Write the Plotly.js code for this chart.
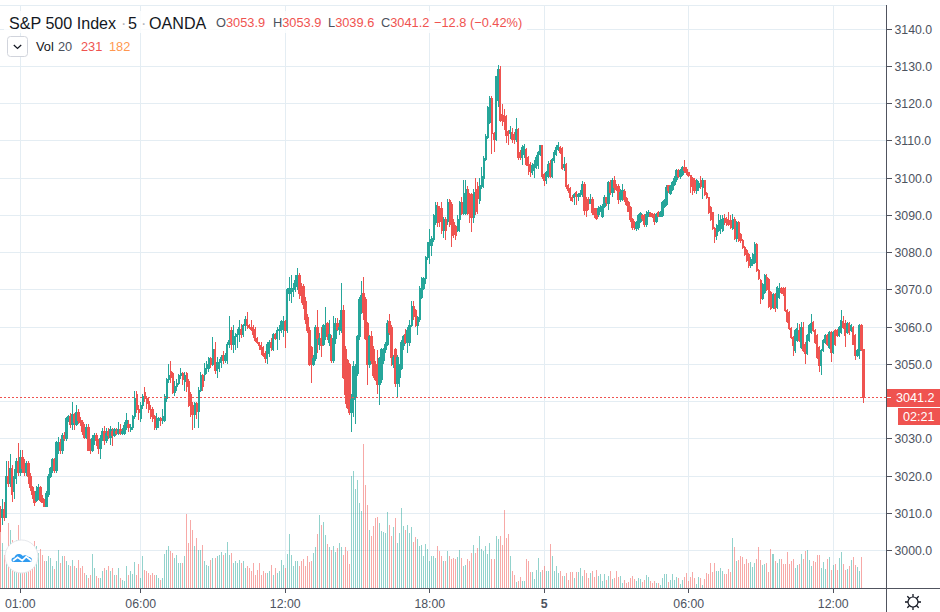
<!DOCTYPE html>
<html><head><meta charset="utf-8">
<script src="https://cdn.plot.ly/plotly-3.0.1.min.js"></script>
<style>html,body{margin:0;padding:0;background:#fff}#c{width:940px;height:612px}
.bars path,.boxes path,.shapelayer path{shape-rendering:crispEdges}</style>
</head><body><div id="c"></div>
<script>
const opens=[
3011,3009,3011,3009,3020,3018,3022,3016,3019.5,3024,
3021,3025,3023,3021,3023.5,3020,3017,3016,3013.5,3014.5,
3017,3014,3013.5,3012,3015,3020,3021.5,3024.5,3021.5,3027,
3029,3027,3031,3030,3035,3036,3034,3036.5,3034,3037,
3035,3034.5,3032.5,3030.5,3033,3029.5,3027,3030,3031,3029.5,
3027.5,3030,3032,3029.5,3032,3030.5,3032,3031,3032,3031.5,
3032.5,3031.5,3031.5,3033,3034,3032.5,3033,3036,3042,3038,
3035.5,3039,3042.5,3041,3040,3038,3038,3036,3033,3035,
3035.5,3035,3035,3041,3046,3048,3047.5,3042.5,3044,3045,
3047,3047.5,3045.5,3047.5,3045.5,3042,3039,3036.5,3039.5,3037.5,
3043,3047,3047.4,3049,3049,3051.5,3050,3054,3048.5,3049,
3050.5,3052.5,3051,3051,3055.5,3059,3055.5,3055.5,3057.5,3058,
3059.5,3058,3060.5,3062,3060.5,3060,3060,3059.5,3057,3056,
3055,3054.5,3053,3051.5,3053,3056,3054,3058,3057,3059,
3059,3059.5,3061.5,3059,3069,3069,3069.5,3070,3071,3074,
3071,3071,3067,3062.5,3059,3054.5,3050,3051.5,3060,3055.5,
3057,3055.5,3058,3061,3056,3057,3051,3057,3061,3059.5,
3059,3064.5,3054,3051,3050,3037,3040.5,3041.5,3047.5,3057.5,
3064.5,3069,3067.5,3061,3050,3057.5,3054,3050,3046.5,3044.5,
3046,3051,3054,3055.5,3061.5,3060,3050,3054,3045,3046.5,
3049,3055,3058,3056,3056,3060.5,3065.5,3064.5,3060.5,3062,
3068,3070.5,3073,3078.7,3082,3082,3083.5,3088.2,3092.5,3092,
3092,3086,3089,3088.5,3094,3093,3088,3087,3086,3089,
3093.5,3090.5,3090.5,3097,3095.5,3095.5,3089.5,3097,3097.7,3094,
3097.7,3100,3105,3111,3115,3121.5,3112,3110.5,3120.9,3129.3,
3117,3116.8,3116.7,3112.5,3111.9,3112.3,3111.8,3110.3,3113.1,3107,
3105.6,3106.5,3107.8,3105.6,3103.8,3101.5,3102,3103,3103.4,3106.5,
3108.7,3101.1,3099.4,3100.5,3104,3100.4,3104.7,3106.5,3107.8,3108.3,
3108,3103,3103.8,3098,3097.2,3094.8,3094.8,3096.1,3095.2,3095.7,
3095.5,3098.4,3094.3,3093.8,3093.2,3094.3,3091.8,3091.5,3090.3,3092,
3089.8,3092.3,3094.8,3093.2,3098.8,3096.1,3099.5,3097.5,3097.9,3094.3,
3095.5,3096.4,3094.5,3093.4,3092.1,3088.9,3088,3086.4,3086.7,3088.5,
3090,3090,3087.6,3090,3090.5,3090.2,3090.3,3088.5,3090.7,3089.8,
3090,3092.5,3093,3098,3096,3097,3098.4,3099.7,3102,3100.4,
3101,3102.9,3102.4,3101.5,3100.7,3100,3099.3,3096.6,3097.5,3099.5,
3097.5,3099.3,3096,3094.8,3092.1,3090.8,3086.6,3084.5,3085.9,3086.5,
3085.9,3089.1,3089,3088.6,3088.6,3086.6,3089,3083.7,3088.1,3085,
3083.2,3081.4,3080.5,3079.6,3076.5,3077,3077.4,3082.3,3075.2,3072.5,
3067.6,3069.4,3073.4,3072.9,3069.4,3065.3,3068.9,3065.4,3068,3070.5,
3070.3,3070.5,3064.5,3064,3059.6,3057.3,3053.8,3056.4,3059.1,3054.6,
3060,3055.5,3052.9,3056.4,3058.7,3061.3,3059.1,3057.8,3054.6,3049.7,
3053.8,3056,3057.8,3054.6,3058.7,3053.3,3059.1,3059.1,3057.8,3058.7,
3061.6,3060.9,3058.7,3061,3059.1,3060,3057.8,3052.4,3053.8,3060.4,
3053.9];
const highs=[
3012,3014,3013,3024,3024,3026,3023,3022,3025,3029,
3027,3027,3024.5,3024,3024,3021,3017.5,3016,3017.5,3018,
3017.5,3015,3014,3016,3020.5,3022.5,3025,3025,3029.5,3030.5,
3030,3031.5,3032,3036,3036.5,3037,3040,3037,3039,3038,
3036,3035,3034,3034,3034,3030,3031,3031.5,3031.5,3030,
3031,3033,3033.5,3033,3033,3033.5,3033,3033,3033,3034.5,
3034,3033,3034.5,3037,3035,3034,3036.5,3043,3043,3039,
3040,3042,3044,3041.5,3041,3039,3038.5,3036.5,3037,3036,
3036,3038,3042,3046.5,3050,3051,3048,3045.5,3046,3047.5,
3049,3048,3048,3048,3046,3042.5,3040,3040,3040,3044,
3048,3047.5,3050.5,3051,3052,3052,3057.5,3056,3052,3051.5,
3052.5,3053.5,3053,3056,3063,3060,3060.5,3058.5,3059.5,3062,
3061,3061,3063,3064,3061,3062,3060.5,3060,3057.5,3056,
3056,3055,3053.5,3056,3056.5,3057,3058.5,3058.5,3060,3060.5,
3062,3063,3062,3070.5,3073.5,3074,3072,3074,3076,3074.5,
3072,3071.5,3068,3063.5,3060,3055,3052.5,3060.5,3064.5,3058.5,
3060,3061,3065.5,3061.5,3062,3058,3063,3062.5,3062.5,3062,
3072,3066,3055,3051.5,3050.5,3042,3051,3050,3058,3068,
3072.5,3073.5,3068,3061.5,3058,3059,3055,3051,3054,3052,
3054.5,3054.5,3056,3062,3063.5,3060.5,3052.5,3054.5,3052.5,3050,
3056.5,3058,3059.5,3060,3062,3067,3067,3065,3063,3071,
3073.5,3073.5,3079,3083,3086.5,3084.5,3090.5,3093.5,3093.5,3092.5,
3093.5,3089.5,3089.5,3094.5,3094.5,3093.5,3089,3087.5,3090,3094,
3095,3099.5,3099.5,3098,3096,3096,3097,3100,3099,3100,
3103,3106,3112,3119.5,3122,3122,3112.5,3127.5,3130.5,3130,
3120,3118.5,3117,3113,3114,3113.5,3112.5,3116.3,3113.5,3107.5,
3108.8,3109.3,3108,3106,3104.3,3104,3105,3106.2,3107.4,3109,
3109,3101.5,3102,3104.5,3105,3105.5,3107.5,3108.8,3109.7,3108.7,
3108.5,3105.8,3104,3098.5,3097.6,3095.5,3096,3096.5,3096,3096.8,
3099.2,3099,3095,3095,3095.8,3095,3092,3092,3092.5,3092.8,
3093,3095.5,3095,3099.3,3099.5,3100,3100.5,3098.5,3098.5,3097,
3098.5,3097,3095,3094,3092.5,3089.3,3088.5,3088.5,3090.5,3091,
3090.5,3090.5,3091.2,3091.5,3091,3090.8,3090.7,3090.8,3091.2,3091.3,
3093.9,3094.5,3098.3,3098.3,3098.3,3099.3,3100.5,3102.4,3102.5,3102.5,
3103.3,3104.8,3103,3101.8,3101,3100.4,3100,3099.8,3099.3,3100.5,
3100,3099.6,3096.3,3095,3092.5,3091,3087,3087.6,3090.3,3090,
3090,3090.5,3089.5,3091,3090,3090.5,3089.5,3088.6,3088.5,3085.3,
3083.6,3081.8,3080.9,3080,3078.8,3080,3082.8,3082.7,3075.6,3073,
3072,3074.3,3074.2,3073.2,3069.7,3069.3,3069.3,3071.2,3072,3070.9,
3070.8,3070.9,3064.9,3064.3,3060,3057.7,3059.5,3061.2,3061,3061.5,
3061.5,3056,3058.2,3060.8,3063.5,3061.7,3059.5,3058.2,3055,3054.2,
3056.8,3058.2,3058.2,3059.1,3059.1,3059,3059.5,3059.5,3060.4,3064.7,
3063,3062,3061.5,3061.5,3060.8,3060.4,3058.2,3054.2,3060.8,3060.8,
3053.9];
const lows=[
3005,3007,3008,3009,3017,3017,3013,3014,3018,3020,
3020,3021,3020,3020,3018,3016,3014,3012,3013,3013.5,
3013,3013,3012,3012,3014.5,3019.5,3021,3021,3021,3026,
3026,3026,3029.5,3029.5,3034.5,3033,3032.5,3032.5,3033.5,3034,
3033.5,3031,3030,3030,3027,3026,3026.5,3028.5,3028,3026,
3024.5,3029.5,3028.5,3029,3030,3028.5,3028,3030.5,3031,3031,
3031,3031,3031,3032.5,3032,3032,3032.5,3035.5,3037,3035,
3034.5,3038,3040,3038,3037,3035.5,3034.5,3032.5,3032.5,3033,
3033.5,3034,3034.5,3040,3045,3045,3042,3041.5,3043,3044.5,
3046,3044.5,3043,3042.5,3038.5,3036,3032.5,3033,3035.5,3033,
3042.5,3043,3045.5,3047.5,3048,3049,3049.5,3047.5,3046.5,3048,
3049,3050,3050.5,3050,3054.5,3054,3053,3054,3054.5,3056,
3057,3057.5,3059,3059.5,3059.5,3059,3057,3056,3055.5,3054,
3052.5,3052,3050.5,3050,3052,3053.5,3053.5,3056.5,3054,3056.5,
3058.5,3057.5,3054.5,3058.5,3067,3066.5,3068,3069.5,3070,3067.5,
3066.5,3065,3061,3058.5,3049.5,3045,3049.5,3051,3053,3054,
3052,3055,3056.5,3056.5,3055,3050.5,3050.5,3055.5,3059,3058,
3058.5,3046,3039.5,3038,3036.5,3032,3036,3034,3047,3056.5,
3063.5,3062,3056.5,3044.5,3049,3050,3046.5,3045.5,3042,3039,
3045,3050,3053,3055,3058,3049.5,3049,3044,3041,3044,
3048.5,3054,3055.5,3053,3055,3060,3062,3060,3058,3061.5,
3067.5,3070,3071.5,3078,3077,3079,3083,3087.5,3087,3087,
3085,3084,3083.5,3087.5,3087,3081.5,3084,3083.5,3085.5,3085.5,
3090,3090,3090,3090,3088,3085.5,3088,3090,3090.5,3093,
3097,3097.5,3104.5,3110.5,3114.5,3106.5,3107,3110,3119,3115,
3114,3113,3109.5,3109,3110.5,3109.5,3109.3,3109.8,3105,3104.8,
3103.5,3105.5,3103.3,3100.8,3100.3,3100.8,3100,3102.4,3102.5,3106,
3099.8,3098,3098.5,3100,3100,3100,3104,3106,3107.3,3106.5,
3102.3,3102,3097,3096,3094,3093.5,3092.8,3092.8,3094,3095,
3095,3090,3089.7,3091.5,3093,3090.2,3089.4,3088.8,3089.5,3091,
3089.3,3092,3092.5,3091.5,3095.5,3095,3096,3096.5,3093,3093.5,
3094,3093.5,3092.5,3091,3088.3,3086.2,3086,3085.8,3086.2,3088,
3088.5,3087,3087,3089.5,3089.5,3089.3,3087.5,3088,3089.5,3089.5,
3089.5,3092,3092.5,3096,3095.5,3096.5,3098,3099,3100,3099.8,
3100.5,3101.5,3101,3100.2,3096,3095.5,3096,3095.8,3096.5,3097,
3094.5,3095.2,3094.3,3090.3,3088.5,3086,3082.5,3083.3,3085.5,3085,
3085.5,3087.5,3087.2,3087.2,3086.5,3086.2,3083.3,3082.8,3082.8,3082.5,
3081,3079.2,3077.4,3076,3076,3076.5,3077,3074.8,3072.6,3066.2,
3067.2,3069,3069.8,3065.2,3064.5,3064.8,3064,3065,3067.5,3069,
3068.5,3064,3061.2,3059.2,3056.9,3052.4,3053.2,3056,3056,3054.2,
3053.4,3050,3052.5,3056,3058.3,3058.7,3055.6,3051.6,3048.1,3047.3,
3053.4,3055.6,3055,3054.2,3050.7,3052.9,3055,3057.4,3057.4,3058.3,
3059.6,3054.6,3058.3,3058,3058.7,3055.1,3051.1,3052,3051.5,3053.5,
3039.6];
const closes=[
3009,3011,3009,3020,3018,3022,3015,3020,3024,3021,
3025,3022,3021,3023.5,3020,3017,3015,3013,3016,3017,
3013.5,3013,3012,3015.5,3020,3022,3024.5,3021.5,3029,3029,
3027,3031,3030,3035.5,3036,3034,3036.5,3034.5,3037,3035,
3034.5,3032,3030.5,3033,3027,3027,3030,3031,3029.5,3027.5,
3030,3032,3029.5,3031.5,3031,3032.5,3031,3032.5,3031.5,3032.5,
3031.5,3032,3033.5,3035,3033,3033,3036,3041,3038,3037,
3039,3041.5,3041,3039.5,3038,3036,3035.5,3033,3035.5,3035.5,
3035,3036,3041.5,3046,3047,3046.5,3042.5,3044,3045,3047,
3047.5,3046,3047,3044,3039,3036.5,3036.5,3039.5,3037.5,3043,
3047,3044,3049,3050,3051.5,3050,3054,3048.5,3050.5,3050.5,
3052,3051,3052.5,3055.5,3056.5,3055.5,3059,3057.5,3058,3060,
3058,3060.5,3062,3060.5,3060,3059.5,3058,3056.5,3056,3055,
3054,3052.5,3051.5,3055.5,3056,3054.5,3058,3057,3059,3059.5,
3061.5,3061.5,3059,3070,3070.5,3070.5,3070.5,3072.5,3074,3069,
3068.5,3066,3062,3059,3050,3050,3051.5,3060,3057,3057,
3055,3060.5,3060.5,3057.5,3058,3051,3057,3061,3059.5,3060,
3064.5,3046.5,3042,3038.5,3037,3040.5,3049.5,3047.5,3057.5,3067.5,
3068.5,3064,3057,3050,3057.5,3051,3047,3046,3044.5,3051.5,
3054,3054,3055.5,3061,3058.5,3052,3052,3045,3052,3049,
3056,3057.5,3056,3059,3060.5,3065.5,3063,3060.5,3062.5,3070.5,
3073,3073,3078.7,3082.8,3083.5,3083.7,3090,3092.7,3088.2,3088.5,
3086,3089,3086,3093.5,3087.5,3084.5,3085,3084.5,3089,3093.5,
3090.5,3095.9,3097,3090.5,3089.5,3089.5,3096.3,3091,3094.5,3098,
3100.5,3105.4,3111.3,3118.9,3121.4,3112,3110.3,3127.2,3129.3,3115.5,
3115.5,3115.3,3111.4,3111.5,3112.8,3110.5,3110.5,3113.1,3105.6,3105.6,
3108.3,3108.5,3103.8,3103.3,3101.8,3103.3,3103.6,3105.6,3106.9,3108.7,
3100.4,3099.4,3101.5,3103.8,3100.4,3105.1,3106.9,3108.3,3108.7,3107,
3102.7,3103.8,3097.9,3096.6,3094.8,3094,3095.7,3095,3095.7,3096,
3098.4,3091.4,3091.4,3093.2,3094.3,3090.7,3090.3,3089.3,3092,3092.2,
3092.5,3094.8,3093.4,3098.8,3096.1,3099.3,3097.5,3097,3094.3,3096.1,
3096.6,3094.3,3093,3091.2,3088.9,3086.7,3086.7,3088,3090.1,3090.4,
3089.1,3087.6,3090.3,3090.8,3089.8,3089.8,3088.5,3090.3,3089.8,3090.9,
3093.4,3094,3097.5,3096.6,3097.9,3098.8,3100,3102,3100.4,3102,
3102.9,3102,3101.5,3100.6,3097.9,3096.8,3096.6,3099.5,3098.5,3097.8,
3099.5,3095.7,3094.8,3090.8,3089,3086.6,3084.3,3087.2,3088.6,3089,
3089.1,3088.1,3087.7,3087.7,3086.9,3089,3083.7,3088.1,3083.2,3083.2,
3081.4,3079.6,3077.8,3076.5,3078.2,3079.6,3082.3,3075.2,3073,3067.6,
3071.6,3073.8,3070.2,3065.5,3064.9,3068.9,3064.9,3070.7,3070.3,3069.4,
3069,3064.5,3061.6,3059.6,3057.3,3055.1,3059.1,3059.6,3056.4,3060,
3053.8,3052.9,3057.8,3060.4,3060.9,3059.1,3056,3052,3049.7,3053.8,
3056.4,3057.8,3055.5,3058.7,3053.3,3058.7,3055.5,3057.8,3060,3061.8,
3060,3057.8,3060.9,3058.5,3060.4,3055.5,3052.4,3053.8,3060.4,3053.9,
3041.2];
const volumes=[
435,338,248,248,488,435,360,285,360,473,
300,263,225,263,225,263,285,353,315,263,
293,248,203,203,240,225,165,143,203,285,
188,240,240,203,173,165,210,165,150,210,
150,165,113,98,75,98,255,150,90,75,
75,128,150,135,165,128,150,98,98,150,
75,60,53,165,98,128,105,195,98,180,
75,240,135,128,113,98,113,98,98,75,
60,75,255,285,315,278,263,225,248,188,
188,188,240,555,338,510,435,315,375,285,
285,323,203,173,165,210,225,225,240,248,
270,248,263,345,248,263,188,203,188,210,
188,203,150,165,150,128,188,98,135,188,
98,128,113,113,128,173,98,150,113,128,
210,173,150,255,405,248,165,203,203,165,
203,218,165,240,195,203,263,308,405,548,
473,495,398,330,308,285,315,270,300,338,
308,248,308,278,180,840,878,743,810,638,
578,1080,773,623,435,390,465,525,533,488,
428,420,413,570,473,390,458,525,338,413,
600,465,435,473,413,458,345,383,368,315,
323,240,330,293,203,240,240,225,315,278,
240,203,203,278,240,218,225,218,233,285,
225,165,173,218,203,263,323,263,300,390,
293,278,315,255,338,218,218,390,368,390,
323,585,375,405,240,128,98,45,53,83,
53,53,218,203,120,120,68,135,225,120,
135,165,128,128,330,240,128,165,113,128,
90,90,113,60,120,120,75,120,120,150,
90,135,113,75,113,128,83,135,90,105,
53,105,60,90,128,68,75,128,83,90,
38,60,38,45,75,90,68,53,75,68,
45,60,98,83,53,38,53,38,38,23,
75,105,105,45,60,105,60,83,75,30,
60,83,113,53,83,120,75,30,83,75,
23,68,113,105,188,120,188,128,128,150,
128,105,105,143,120,375,308,203,210,240,
233,180,218,188,195,158,188,218,308,210,
173,180,188,120,293,255,203,188,218,218,
180,180,270,180,203,218,150,173,180,255,
218,278,285,210,165,203,195,248,248,150,
195,143,218,233,135,173,180,135,225,270,
180,135,143,165,210,233,173,158,128,231];
const tickIndex=[10,70,142,214,271,343,415];
const tickLabels=["01:00","06:00","12:00","18:00","<b>5</b>","06:00","12:00"];
const priceTicks=[3000,3010,3020,3030,3040,3050,3060,3070,3080,3090,3100,3110,3120,3130,3140];
const priceLabels=["3000.0","3010.0","3020.0","3030.0","","3050.0","3060.0","3070.0","3080.0","3090.0","3100.0","3110.0","3120.0","3130.0","3140.0"];
const lastPrice=3041.2;

const UP='#26a69a',DOWN='#ef5350',GRID='#e4edf3',AX='#50535e',TXT='#4c525e',INK='#131722',ORANGE='#ff9850';
const FONT='"Liberation Sans",Arial,sans-serif';
const PW=886,PT=5,PB=588,PH=PB-PT;
const X=p=>p/PW, Y=p=>(PB-p)/PH;
const idx=closes.map((_,i)=>i);
const volColors=closes.map((c,i)=>c>=opens[i]?'rgba(38,166,154,0.5)':'rgba(239,83,80,0.5)');
const volW=closes.map((_,i)=>i===closes.length-1?1.5:0.5);

const svg=s=>'data:image/svg+xml;utf8,'+encodeURIComponent(s);
const logo=svg('<svg xmlns="http://www.w3.org/2000/svg" width="40" height="40" viewBox="0 0 40 40"><circle cx="19.5" cy="19.5" r="16.5" fill="#fff" stroke="#e6e8ec" stroke-width="1"/><g transform="translate(6.4,7.2) scale(0.66)"><path d="M8 27c-3 0-4-3-3-5 1-2 3-2 4-2 1-3 4-6 8-5 2 0 4 2 5 3 2-2 6-1 8 1 3 0 6 2 6 5 0 2-2 3-4 3z" fill="#2f9bf0"/><path d="M7 25l7-5 7 5 6-6 8 6" fill="none" stroke="#fff" stroke-width="2.6"/></g></svg>');
const gear=svg('<svg xmlns="http://www.w3.org/2000/svg" width="20" height="20" viewBox="0 0 20 20"><circle cx="10" cy="10" r="5" fill="none" stroke="#131722" stroke-width="1.2"/><g stroke="#131722" stroke-width="1.3"><path d="M10 2v3M10 15v3M2 10h3M15 10h3M4.3 4.3l2 2M13.7 13.7l2 2M4.3 15.7l2-2M13.7 6.3l2-2"/></g></svg>');
const chev=svg('<svg xmlns="http://www.w3.org/2000/svg" width="21" height="21" viewBox="0 0 21 21"><rect x="0.5" y="0.5" width="20" height="20" rx="3" fill="#fff" stroke="#d1d4dc"/><path d="M6.8 9l3.7 3.4L14.2 9" fill="none" stroke="#131722" stroke-width="1.3"/></svg>');
const img=(source,px,py,w,h)=>({source,xref:'paper',yref:'paper',x:X(px),y:Y(py),sizex:w/PW,sizey:h/PH,xanchor:'left',yanchor:'top',layer:'above',sizing:'stretch'});
const note=(text,px,py,size,color)=>({text,xref:'paper',yref:'paper',x:X(px),y:Y(py),xanchor:'left',yanchor:'middle',showarrow:false,font:{family:FONT,size,color:color||INK},borderpad:0});
const red=t=>'<span style="color:'+DOWN+'">'+t+'</span>';

const traces=[
 {type:'bar',x:idx,y:volumes,width:volW,yaxis:'y',xaxis:'x',marker:{color:volColors,line:{width:0}},hoverinfo:'skip',showlegend:false},
 {type:'candlestick',x:idx,open:opens,high:highs,low:lows,close:closes,xaxis:'x',yaxis:'y2',whiskerwidth:0,hoverinfo:'skip',showlegend:false,
  increasing:{line:{color:UP,width:1},fillcolor:UP},decreasing:{line:{color:DOWN,width:1},fillcolor:DOWN}}
];
const rect=(x0,y0,x1,y1,c)=>({type:'rect',xref:'paper',yref:'paper',x0:X(x0),x1:X(x1),y0:Y(y0),y1:Y(y1),fillcolor:c,line:{width:0},layer:'above'});
const seg=(x0,y0,x1,y1,c)=>({type:'line',xref:'paper',yref:'paper',x0:X(x0),x1:X(x1),y0:Y(y0),y1:Y(y1),line:{color:c,width:1},layer:'above'});
const layout={
 width:940,height:612,margin:{l:0,r:54,t:PT,b:612-PB,pad:0},paper_bgcolor:'#fff',plot_bgcolor:'#fff',showlegend:false,bargap:0,boxgap:0.3,boxgroupgap:0,dragmode:false,
 font:{family:FONT,size:12.3,color:TXT},
 xaxis:{type:'linear',range:[-0.115,441.3],tickmode:'array',tickvals:tickIndex,ticktext:tickLabels,showgrid:true,gridcolor:GRID,gridwidth:1,zeroline:false,
   showline:true,linecolor:AX,linewidth:1,ticks:'outside',ticklen:4,tickcolor:AX,tickfont:{family:FONT,size:12.3,color:TXT},rangeslider:{visible:false},fixedrange:true},
 yaxis:{range:[0,4372],showgrid:false,zeroline:false,showticklabels:false,ticks:'',fixedrange:true},
 yaxis2:{overlaying:'y',side:'right',range:[2990.0,3146.5],tickmode:'array',tickvals:priceTicks,ticktext:priceLabels,showgrid:true,gridcolor:GRID,gridwidth:1,zeroline:false,
   showline:true,linecolor:AX,linewidth:1,ticks:'outside',ticklen:5,tickcolor:AX,tickfont:{family:FONT,size:12.3,color:TXT},fixedrange:true},
 shapes:[
  rect(4,11,527,33,'rgba(255,255,255,0.82)'),
  rect(30,35,132,58,'rgba(255,255,255,0.82)'),
  seg(0,5,886,5,GRID),
  seg(886,588,940,588,AX),
  seg(886.3,588,886.3,612,AX),
  {type:'line',xref:'paper',yref:'y2',x0:0,x1:1,y0:lastPrice,y1:lastPrice,line:{color:DOWN,width:1,dash:'2px,2px'},layer:'above'},
  rect(886.5,388.5,940,406.5,DOWN),
  rect(898,407.5,940,425,DOWN),
  seg(887,397.5,891,397.5,'#fff')
 ],
 annotations:[
  note('S&P 500 Index',8,22.5,16.1),
  note('·',120,22.5,16.1,'#b2b5be'),
  note('5',127,22.5,16.1),
  note('·',140,22.5,16.1,'#b2b5be'),
  note('OANDA',148,22.5,16.1),
  note('O'+red('3053.9'),215,23,12.8,TXT),
  note('H'+red('3053.9'),272,23,12.8,TXT),
  note('L'+red('3039.6'),326.5,23,12.8,TXT),
  note('C'+red('3041.2'),379.5,23,12.8,TXT),
  note('−12.8 (−0.42%)',433,23,12.8,DOWN),
  note('Vol',35,46,12.8),
  note('20',57,46,12.8,TXT),
  note('231',80,46,12.8,DOWN),
  note('182',108,46,12.8,ORANGE),
  note('3041.2',895,397.5,12.6,'#fff'),
  note('02:21',902,416.5,12.6,'#fff')
 ],
 images:[img(chev,7,36,21,21),img(logo,2,537,40,40),img(gear,903,592,20,20)]
};
Plotly.newPlot('c',traces,layout,{staticPlot:true,displayModeBar:false});
</script></body></html>
